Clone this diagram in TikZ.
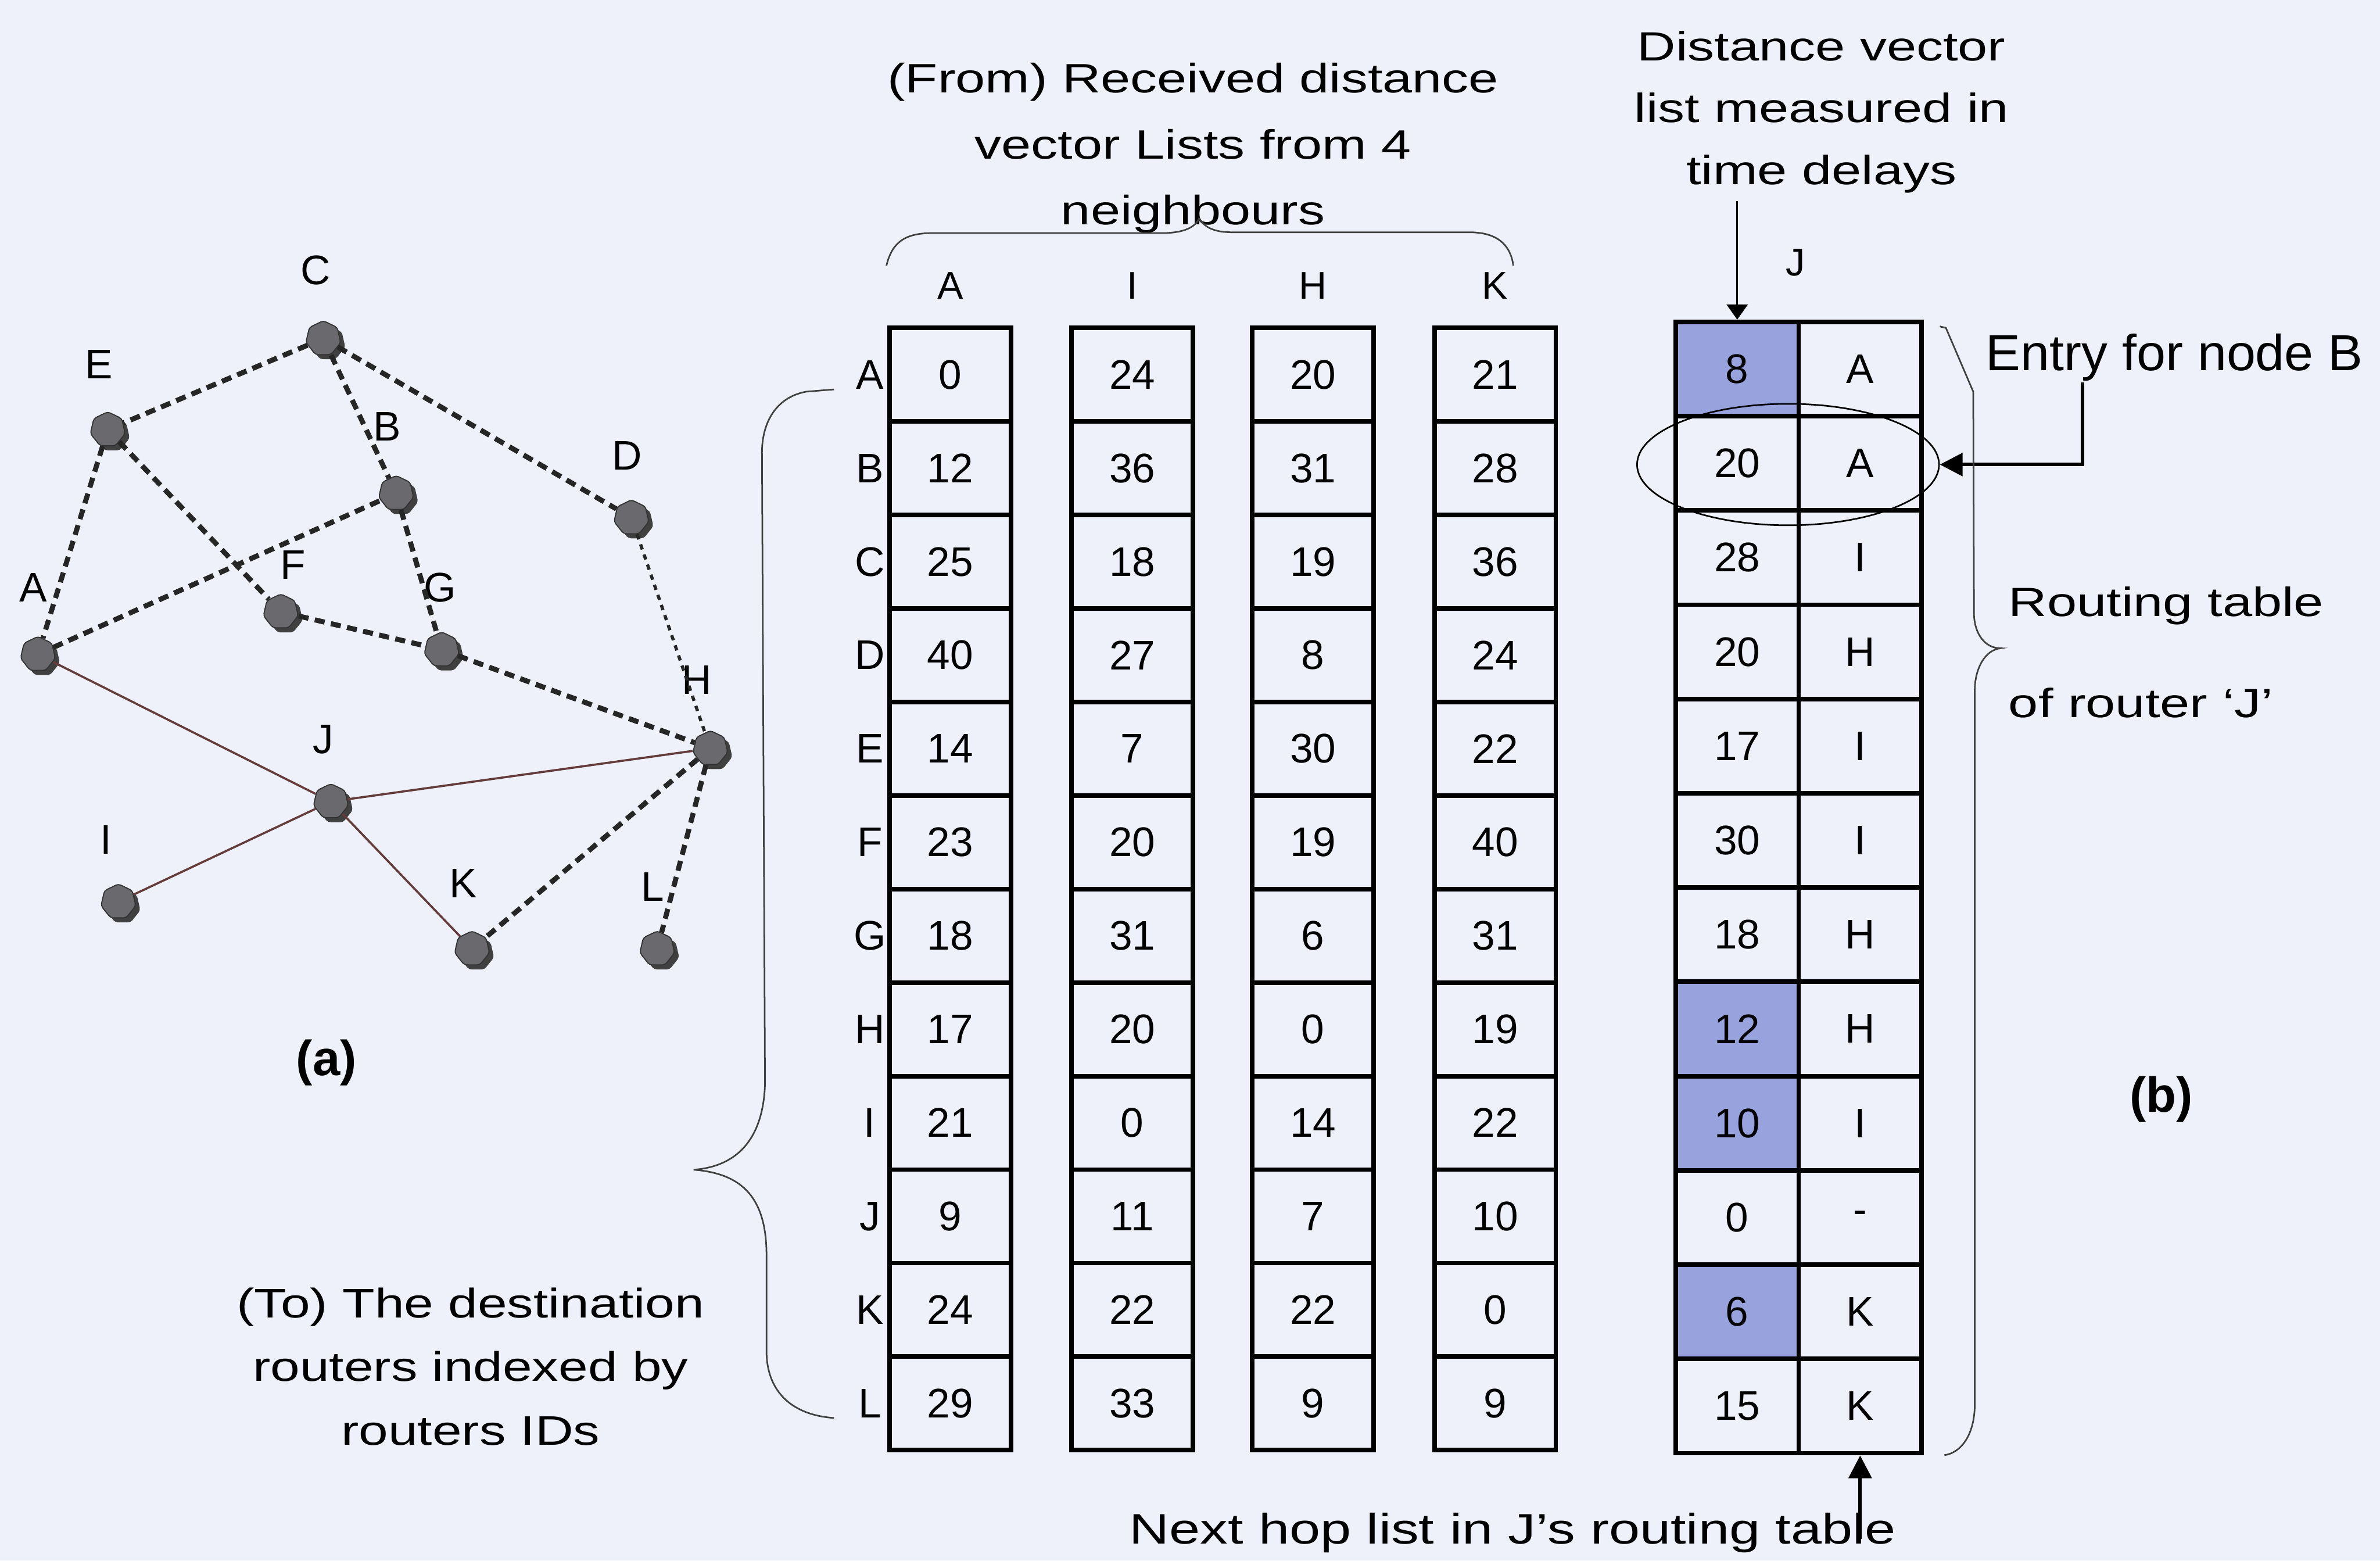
\documentclass[tikz,border=0pt]{standalone}
\usepackage{fontspec}
\setmainfont{Liberation Sans}
\usepackage{tikz}
\usetikzlibrary{shapes.geometric, arrows.meta, shadows}
\definecolor{dvpaper}{RGB}{238,241,250}
\definecolor{dvhop}{RGB}{152,163,222}
\definecolor{dvlink}{RGB}{100,60,60}
\definecolor{dvrouter}{RGB}{105,105,110}

\begin{document}
\begin{tikzpicture}[x=0.02cm, y=-0.02cm,
  router/.style={regular polygon, regular polygon sides=7, minimum size=0.47cm, inner sep=0pt, fill=dvrouter, draw=black!80, line width=0.4pt, rounded corners=1pt, drop shadow={shadow xshift=0.06cm, shadow yshift=-0.06cm, fill=black!75, opacity=1}},
  lbl/.style={inner sep=0pt, font=\fontsize{15.5}{18}\selectfont},
  cell/.style={draw, line width=1.7pt, minimum width=1.6cm, minimum height=1.232cm, inner sep=0pt, font=\fontsize{15.5}{18}\selectfont},
  jcell/.style={cell, minimum width=1.62cm, minimum height=1.242cm},
  wire/.style={dvlink, line width=0.8pt},
  dashwire/.style={black!85, line width=1.9pt, dash pattern=on 3.8pt off 2.4pt},
  finewire/.style={black!85, line width=1.2pt, dash pattern=on 2pt off 2pt},
  brace/.style={black!75, line width=0.6pt},
  arr/.style={-{Triangle[length=0.2cm, width=0.28cm]}, line width=0.6pt},
  harr/.style={-{Triangle[length=0.3cm, width=0.3cm]}, line width=1.3pt},
  note/.style={inner sep=0pt, align=center}
]
\fill[dvpaper] (0,0) rectangle (1568,1028);

% network (a)
\foreach \r/\x/\y in {A/25/431, B/261/325, C/213/223, D/416/341, E/71/283, F/185/403, G/291/428, H/468/493, I/78/594, J/218/528, K/311/625, L/433/625}
  \node[router] (r\r) at (\x,\y) {};
\foreach \r/\x/\y in {A/22/387, B/255/281, C/208/178, D/413/300, E/65/240, F/193/372, G/290/387, H/459/448, I/70/553, J/213/487, K/305/582, L/430/584}
  \node[lbl] (l\r) at (\x,\y) {\r};
\foreach \a/\b in {C/E, C/B, C/D, E/A, E/F, A/B, B/G, F/G, G/H, H/K, H/L}
  \draw[dashwire] (r\a) -- (r\b);
\draw[finewire] (rD) -- (rH);
\foreach \b in {A, H, I, K}
  \draw[wire] (rJ) -- (r\b);
\node[inner sep=0pt, font=\fontsize{18.5}{22}\selectfont\bfseries] (capa) at (215,700) {(a)};
\node[note, anchor=north, font=\fontsize{15.5}{23.8}\selectfont\addfontfeatures{FakeStretch=1.28}] (tonote) at (310,848) {(To) The destination\\routers indexed by\\routers IDs};

% received vectors
\foreach \nb/\cx/\vals in {A/626/{0,12,25,40,14,23,18,17,21,9,24,29}, I/746/{24,36,18,27,7,20,31,20,0,11,22,33}, H/865/{20,31,19,8,30,19,6,0,14,7,22,9}, K/985/{21,28,36,24,22,40,31,19,22,10,0,9}} {
  \node[lbl, font=\fontsize{14.5}{17}\selectfont] (hd-\nb) at (\cx,188) {\nb};
  \foreach \v [count=\r] in \vals
    \node[cell] (\nb-\r) at (\cx, 185.2+61.6*\r) {\v};
}
\foreach \dst [count=\r] in {A,B,C,D,E,F,G,H,I,J,K,L}
  \node[lbl] (to-\dst) at (573, 185.2+61.6*\r) {\dst};
\node[note, anchor=north, font=\fontsize{15.4}{24.8}\selectfont\addfontfeatures{FakeStretch=1.3}] (fromnote) at (786,41) {(From) Received distance\\vector Lists from 4\\neighbours};

% routing table of J
\node[lbl, font=\fontsize{14.5}{17}\selectfont] (hd-J) at (1183,173) {J};
\foreach \d/\h/\f [count=\r] in {8/A/dvhop, 20/A/none, 28/I/none, 20/H/none, 17/I/none, 30/I/none, 18/H/none, 12/H/dvhop, 10/I/dvhop, 0/-/none, 6/K/dvhop, 15/K/none} {
  \node[jcell, fill=\f] (jd-\r) at (1144.5, 180.95+62.1*\r) {\d};
  \node[jcell] (jh-\r) at (1225.5, 180.95+62.1*\r) {\h};
}
\node[draw, ellipse, line width=0.6pt, minimum width=3.98cm, minimum height=1.6cm, inner sep=0pt] (bsel) at (1178,306) {};

% Labels
\node[note, anchor=north, font=\fontsize{15.3}{23.2}\selectfont\addfontfeatures{FakeStretch=1.31}] (dvnote) at (1200,20) {Distance vector\\list measured in\\time delays};
\coordinate (dvtail) at ([yshift=1.56cm]jd-1.north);
\draw[arr] (dvtail) -- (jd-1.north);
\node[anchor=base west, inner sep=0pt, font=\fontsize{19}{22}\selectfont\addfontfeatures{FakeStretch=1.03}] (entry) at (1308,244) {Entry for node B};
\coordinate (entrytail) at (1372,252);
\draw[harr] (entrytail) |- (bsel.east);
\node[note, anchor=north west, align=left, font=\fontsize{15.3}{38}\selectfont\addfontfeatures{FakeStretch=1.31}] (rtnote) at (1323,386) {Routing table\\of router ‘J’};
\node[inner sep=0pt, font=\fontsize{18.5}{22}\selectfont\bfseries] (capb) at (1424,724) {(b)};
\node[anchor=base, inner sep=0pt, font=\fontsize{16}{20}\selectfont\addfontfeatures{FakeStretch=1.3}] (hopnote) at (996.5,1017) {Next hop list in J’s routing table};
\coordinate (hoptail) at ([yshift=-1.1cm]jh-12.south);
\draw[harr] (hoptail) -- (jh-12.south);

% braces
\draw[brace] (549.5,256.5) -- (531,258) .. controls (510,262) and (502,280) .. (502,298) -- (504,714) .. controls (503,745) and (490,768) .. (457,770.5) .. controls (490,773) and (505,790) .. (505,827) -- (505,890) .. controls (505,915) and (520,932) .. (549.5,934);
\draw[brace] (584,175) .. controls (588,158) and (598,153.5) .. (615,153.5) -- (768,153.5) .. controls (780,153) and (787,150) .. (790,144) .. controls (794,150) and (800,153) .. (812,153) -- (968,153) .. controls (985,153) and (995,160) .. (997,175);
\draw[brace] (1278,215) -- (1282,216) -- (1300,258) -- (1300.5,405) .. controls (1301,418) and (1308,427) .. (1318,427) .. controls (1308,428) and (1301,440) .. (1301,455) -- (1301,925) .. controls (1301,945) and (1292,957) .. (1281,958.5);
\end{tikzpicture}
\end{document}
